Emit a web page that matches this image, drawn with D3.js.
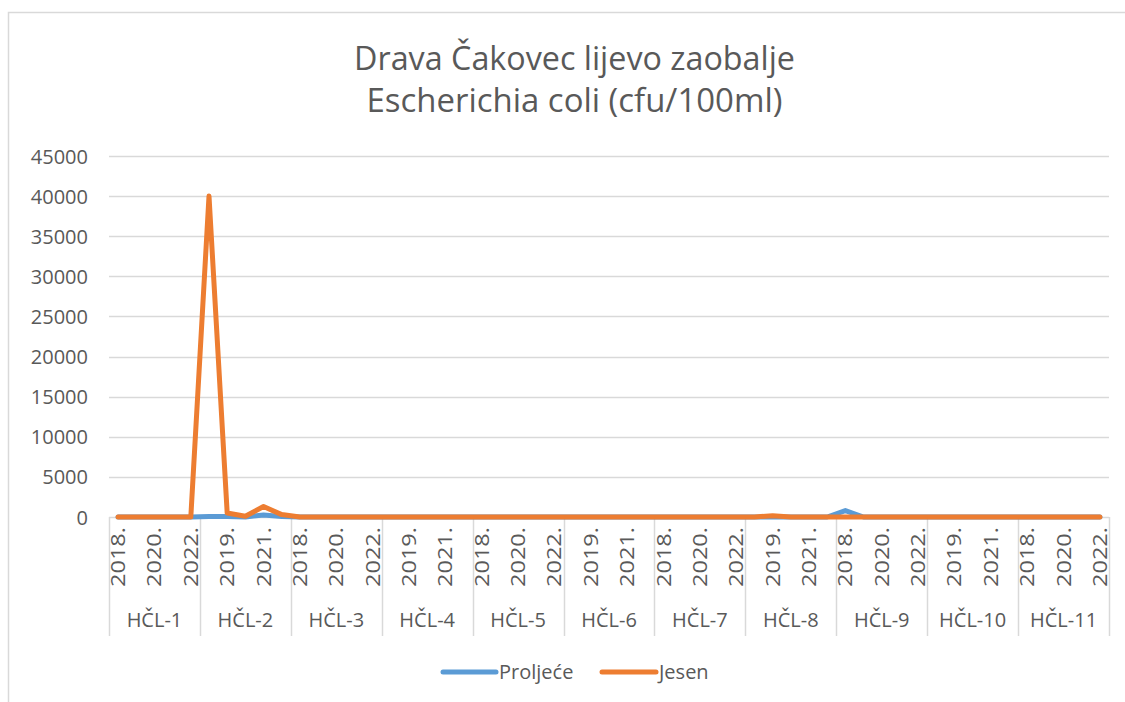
<!DOCTYPE html>
<html>
<head>
<meta charset="utf-8">
<script src="https://cdn.jsdelivr.net/npm/d3@7"></script>
<style>
  html, body { margin: 0; padding: 0; background: #fff; }
  svg { display: block; }
  text { font-family: "Open Sans", "Noto Sans", sans-serif; fill: #595959; }
</style>
</head>
<body>
<svg id="chart" width="1125" height="702"></svg>
<script>
// ---- data ----
const titleLines = ["Drava Čakovec lijevo zaobalje", "Escherichia coli (cfu/100ml)"];
const groups = ["HČL-1","HČL-2","HČL-3","HČL-4","HČL-5","HČL-6","HČL-7","HČL-8","HČL-9","HČL-10","HČL-11"];
const years = ["2018.","2019.","2020.","2021.","2022."];
const seriesNames = ["Proljeće", "Jesen"];
const proljece = [
  0, 0, 0, 0, 0,        // HČL-1
  50, 50, 0, 250, 50,   // HČL-2
  0, 0, 0, 0, 0,        // HČL-3
  0, 0, 0, 0, 0,        // HČL-4
  0, 0, 0, 0, 0,        // HČL-5
  0, 0, 0, 0, 0,        // HČL-6
  0, 0, 0, 0, 0,        // HČL-7
  0, 0, 0, 0, 0,        // HČL-8
  800, 0, 0, 0, 0,      // HČL-9
  0, 0, 0, 0, 0,        // HČL-10
  0, 0, 0, 0, 0         // HČL-11
];
const jesen = [
  0, 0, 0, 0, 0,        // HČL-1
  40000, 500, 100, 1300, 300, // HČL-2
  0, 0, 0, 0, 0,        // HČL-3
  0, 0, 0, 0, 0,        // HČL-4
  0, 0, 0, 0, 0,        // HČL-5
  0, 0, 0, 0, 0,        // HČL-6
  0, 0, 0, 0, 0,        // HČL-7
  0, 150, 0, 0, 0,      // HČL-8
  0, 0, 0, 0, 0,        // HČL-9
  0, 0, 0, 0, 0,        // HČL-10
  0, 0, 0, 0, 0         // HČL-11
];
const yTicks = [0, 5000, 10000, 15000, 20000, 25000, 30000, 35000, 40000, 45000];

// ---- layout ----
const colors = ["#5B9BD5", "#ED7D31"];
const svg = d3.select("#chart");
const plot = { left: 109, right: 1109, top: 156, bottom: 517 };

// chart border
svg.append("rect")
  .attr("x", 8.5).attr("y", 12.5).attr("width", 1130).attr("height", 700)
  .attr("fill", "none").attr("stroke", "#d9d9d9").attr("stroke-width", 1.5);

// title
const titleY = [70, 112];
titleLines.forEach((t, i) => {
  const el = svg.append("text")
    .attr("x", 574.5).attr("y", titleY[i])
    .attr("text-anchor", "middle")
    .style("font-size", "29px")
    .text(t);
  const target = i === 0 ? 441 : 416;
  const w = el.node().getComputedTextLength();
  if (w > 0) el.style("font-size", (29 * target / w).toFixed(2) + "px");
});

// categories
const cats = [];
groups.forEach(g => years.forEach(y => cats.push({ g, y, key: g + "|" + y })));

const x = d3.scaleBand().domain(cats.map(c => c.key)).range([plot.left, plot.right]).padding(0);
const y = d3.scaleLinear().domain([0, 45000]).range([plot.bottom, plot.top]);
const cx = k => x(k) + x.bandwidth() / 2;

// gridlines
svg.append("g").selectAll("line").data(yTicks.filter(d => d > 0)).join("line")
  .attr("x1", plot.left).attr("x2", plot.right)
  .attr("y1", d => Math.round(y(d)) + 0.5).attr("y2", d => Math.round(y(d)) + 0.5)
  .attr("stroke", "#d9d9d9").attr("stroke-width", 1.5);

// y axis labels
const yAxis = d3.axisLeft(y).tickValues(yTicks).tickSize(0).tickPadding(0).tickFormat(d3.format("d"));
const yg = svg.append("g").attr("transform", `translate(88,0)`).call(yAxis);
yg.select(".domain").remove();
yg.selectAll("text").style("font-size", "20px").attr("fill", "#595959").attr("dy", "0.35em");

// x axis line
svg.append("line")
  .attr("x1", plot.left).attr("x2", plot.right)
  .attr("y1", plot.bottom + 0.5).attr("y2", plot.bottom + 0.5)
  .attr("stroke", "#d9d9d9").attr("stroke-width", 1.5);

// group dividers
const groupW = (plot.right - plot.left) / groups.length;
const divX = d3.range(groups.length + 1).map(i => x(cats[Math.min(i * years.length, cats.length - 1)].key) + (i === groups.length ? x.bandwidth() : 0));
svg.append("g").selectAll("line").data(divX).join("line")
  .attr("x1", d => Math.round(d) + 0.5).attr("x2", d => Math.round(d) + 0.5)
  .attr("y1", plot.bottom).attr("y2", 636)
  .attr("stroke", "#d9d9d9").attr("stroke-width", 1.5);

// year tick labels (every other)
svg.append("g").selectAll("text").data(cats.filter((c, i) => i % 2 === 0)).join("text")
  .attr("transform", d => `translate(${cx(d.key) + 7},527) rotate(-90)`)
  .attr("text-anchor", "end")
  .style("font-size", "20px")
  .attr("textLength", 60)
  .attr("lengthAdjust", "spacingAndGlyphs")
  .text(d => d.y);

// group labels
svg.append("g").selectAll("text").data(groups).join("text")
  .attr("x", (d, i) => plot.left + groupW * (i + 0.5))
  .attr("y", 627)
  .attr("text-anchor", "middle")
  .style("font-size", "20px")
  .text(d => d);

// lines
const line = d3.line().x(d => cx(d.key)).y(d => y(d.v));
[proljece, jesen].forEach((vals, si) => {
  svg.append("path")
    .datum(cats.map((c, i) => ({ key: c.key, v: vals[i] })))
    .attr("d", line)
    .attr("fill", "none")
    .attr("stroke", colors[si])
    .attr("stroke-width", 5)
    .attr("stroke-linejoin", "round")
    .attr("stroke-linecap", "round");
});

// legend
const legendItems = [
  { name: seriesNames[0], color: colors[0], x1: 443, x2: 496, tx: 499 },
  { name: seriesNames[1], color: colors[1], x1: 602, x2: 656, tx: 659 }
];
legendItems.forEach(it => {
  svg.append("line")
    .attr("x1", it.x1).attr("x2", it.x2).attr("y1", 672).attr("y2", 672)
    .attr("stroke", it.color).attr("stroke-width", 5).attr("stroke-linecap", "round");
  svg.append("text").attr("x", it.tx).attr("y", 679)
    .style("font-size", "20px").text(it.name);
});
</script>
</body>
</html>
